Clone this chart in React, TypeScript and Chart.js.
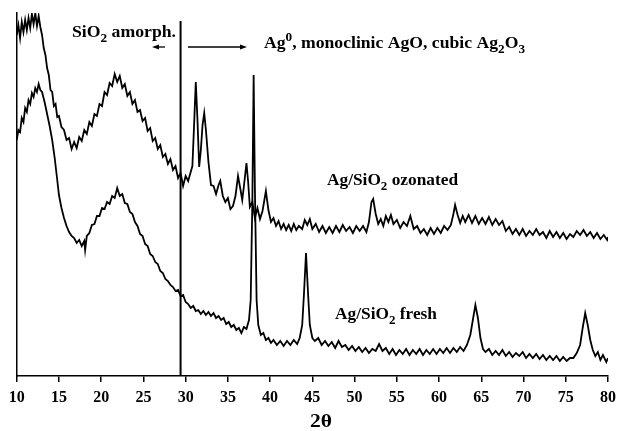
import React, { useEffect, useRef } from "react";
import { Chart, registerables } from "chart.js";

Chart.register(...registerables);

// 2θ positions (degrees) and intensities (arbitrary units)
const TT_OZONATED = [
  10.0, 10.2, 10.4, 10.6, 10.8, 11.0, 11.2, 11.4, 11.6, 11.8, 12.0, 12.2, 12.4, 12.6, 12.8, 13.0, 13.2, 13.4, 13.6, 13.8,
  14.0, 14.2, 14.4, 14.6, 14.8, 15.0, 15.3, 15.6, 15.9, 16.2, 16.5, 16.8, 17.1, 17.4, 17.7, 18.0, 18.3, 18.6, 18.9, 19.2,
  19.5, 19.8, 20.1, 20.4, 20.7, 21.0, 21.3, 21.6, 21.9, 22.2, 22.5, 22.8, 23.1, 23.4, 23.7, 24.0, 24.3, 24.6, 24.9, 25.2,
  25.5, 25.8, 26.1, 26.4, 26.7, 27.0, 27.3, 27.6, 27.9, 28.2, 28.5, 28.8, 29.1, 29.4, 29.7, 30.0, 30.3, 30.6, 30.8, 31.0,
  31.2, 31.4, 31.6, 31.8, 32.0, 32.2, 32.4, 32.7, 33.0, 33.3, 33.6, 33.9, 34.1, 34.4, 34.7, 35.0, 35.3, 35.6, 35.9, 36.2,
  36.5, 36.7, 36.9, 37.2, 37.4, 37.6, 37.9, 38.2, 38.5, 38.8, 39.1, 39.5, 39.8, 40.1, 40.4, 40.7, 41.0, 41.3, 41.6, 41.9,
  42.2, 42.5, 42.8, 43.1, 43.4, 43.8, 44.1, 44.4, 44.7, 45.0, 45.4, 45.8, 46.2, 46.6, 47.0, 47.4, 47.8, 48.2, 48.6, 49.0,
  49.4, 49.8, 50.2, 50.6, 51.0, 51.4, 51.7, 52.0, 52.2, 52.5, 52.8, 53.1, 53.4, 53.7, 54.0, 54.3, 54.6, 55.0, 55.4, 55.8,
  56.2, 56.6, 57.0, 57.4, 57.8, 58.2, 58.6, 59.0, 59.4, 59.8, 60.2, 60.6, 61.0, 61.4, 61.7, 61.9, 62.2, 62.5, 62.8, 63.1,
  63.5, 63.9, 64.3, 64.7, 65.1, 65.5, 65.9, 66.3, 66.7, 67.1, 67.5, 67.9, 68.3, 68.7, 69.1, 69.5, 69.9, 70.3, 70.7, 71.1,
  71.5, 71.9, 72.3, 72.7, 73.1, 73.5, 73.9, 74.3, 74.7, 75.1, 75.5, 75.9, 76.3, 76.7, 77.1, 77.5, 77.9, 78.3, 78.7, 79.1,
  79.5, 79.9, 80.0,
];
const I_OZONATED = [
  341, 351, 338, 354, 344, 356, 346, 358, 348, 362, 352, 363, 350, 360, 349, 341, 328, 321, 308, 301,
  286, 284, 270, 272, 259, 260, 249, 246, 236, 238, 227, 234, 228, 239, 235, 246, 242, 254, 250, 262,
  260, 272, 270, 284, 281, 293, 290, 302, 294, 300, 288, 292, 280, 284, 272, 276, 264, 266, 255, 258,
  245, 248, 235, 238, 227, 231, 219, 222, 212, 217, 206, 210, 198, 203, 190, 200, 195, 204, 210, 251,
  294, 256, 209, 226, 251, 263, 246, 214, 191, 190, 182, 191, 195, 180, 174, 178, 167, 170, 180, 200,
  186, 176, 190, 213, 194, 169, 174, 158, 168, 157, 165, 185, 166, 154, 158, 150, 155, 147, 152, 146,
  151, 145, 152, 146, 150, 147, 156, 151, 157, 147, 152, 144, 150, 143, 149, 143, 150, 144, 151, 145,
  149, 143, 150, 145, 150, 144, 154, 174, 177, 162, 152, 157, 150, 160, 154, 161, 152, 156, 148, 154,
  150, 160, 147, 150, 143, 147, 141, 148, 142, 148, 143, 150, 146, 151, 162, 171, 161, 153, 160, 154,
  161, 153, 160, 152, 158, 152, 159, 151, 157, 151, 155, 145, 149, 142, 147, 141, 147, 140, 145, 141,
  147, 141, 144, 138, 145, 139, 144, 138, 143, 137, 142, 139, 145, 141, 146, 140, 144, 138, 143, 137,
  141, 136, 139,
];

const TT_FRESH = [
  10.0, 10.2, 10.4, 10.6, 10.8, 11.0, 11.2, 11.4, 11.6, 11.8, 12.0, 12.2, 12.4, 12.6, 12.8, 13.0, 13.3, 13.6, 13.9, 14.2,
  14.5, 14.8, 15.0, 15.3, 15.6, 15.9, 16.2, 16.5, 16.8, 17.1, 17.4, 17.7, 18.0, 18.1, 18.3, 18.6, 18.9, 19.2, 19.5, 19.8,
  20.1, 20.4, 20.7, 21.0, 21.3, 21.6, 21.9, 22.2, 22.5, 22.8, 23.1, 23.4, 23.7, 24.0, 24.3, 24.6, 24.9, 25.2, 25.5, 25.8,
  26.1, 26.4, 26.7, 27.0, 27.3, 27.6, 27.9, 28.2, 28.5, 28.8, 29.1, 29.4, 29.7, 30.0, 30.3, 30.6, 30.9, 31.2, 31.5, 31.8,
  32.1, 32.4, 32.7, 33.0, 33.3, 33.6, 33.9, 34.2, 34.5, 34.8, 35.1, 35.4, 35.7, 36.0, 36.3, 36.6, 36.9, 37.2, 37.5, 37.7,
  37.9, 38.05, 38.2, 38.4, 38.6, 38.9, 39.2, 39.5, 39.8, 40.1, 40.4, 40.8, 41.2, 41.6, 42.0, 42.4, 42.8, 43.2, 43.5, 43.8,
  44.0, 44.25, 44.5, 44.7, 45.0, 45.3, 45.7, 46.1, 46.5, 46.9, 47.3, 47.7, 48.1, 48.5, 48.9, 49.3, 49.7, 50.1, 50.5, 50.9,
  51.3, 51.7, 52.1, 52.5, 52.9, 53.3, 53.7, 54.1, 54.5, 54.9, 55.3, 55.7, 56.1, 56.5, 56.9, 57.3, 57.7, 58.1, 58.5, 58.9,
  59.3, 59.7, 60.1, 60.5, 60.9, 61.3, 61.7, 62.1, 62.5, 62.9, 63.3, 63.7, 64.0, 64.3, 64.6, 64.9, 65.2, 65.5, 65.9, 66.3,
  66.7, 67.1, 67.5, 67.9, 68.3, 68.7, 69.1, 69.5, 69.9, 70.3, 70.7, 71.1, 71.5, 71.9, 72.3, 72.7, 73.1, 73.5, 73.9, 74.3,
  74.7, 75.1, 75.5, 75.9, 76.3, 76.7, 77.0, 77.3, 77.6, 77.9, 78.2, 78.5, 78.8, 79.1, 79.4, 79.8, 80.0,
];
const I_FRESH = [
  236, 246, 244, 258, 254, 268, 264, 276, 272, 283, 279, 288, 284, 292, 286, 284, 274, 262, 250, 236,
  218, 196, 181, 168, 158, 150, 144, 140, 138, 133, 136, 130, 135, 126, 140, 143, 151, 152, 160, 160,
  168, 167, 174, 172, 180, 178, 188, 180, 182, 173, 172, 164, 162, 154, 150, 142, 140, 132, 130, 122,
  120, 114, 112, 105, 103, 97, 95, 91, 89, 85, 86, 80, 81, 74, 72, 68, 70, 65, 66, 62,
  65, 61, 64, 60, 63, 58, 60, 56, 58, 52, 54, 49, 51, 46, 48, 43, 49, 47, 56, 76,
  176, 301, 186, 76, 51, 41, 43, 36, 38, 33, 36, 31, 35, 30, 35, 31, 36, 32, 38, 51,
  81, 123, 81, 51, 38, 35, 38, 31, 35, 30, 34, 28, 35, 29, 31, 26, 30, 25, 29, 24,
  28, 23, 27, 25, 32, 25, 28, 22, 27, 21, 26, 22, 27, 21, 26, 22, 27, 21, 26, 22,
  27, 22, 27, 23, 28, 23, 28, 24, 29, 25, 31, 41, 56, 71, 58, 38, 27, 24, 27, 21,
  25, 21, 26, 20, 24, 19, 23, 20, 24, 18, 22, 18, 22, 17, 21, 16, 20, 16, 20, 15,
  19, 15, 18, 18, 23, 31, 48, 63, 51, 36, 26, 20, 24, 16, 21, 14, 18,
];

const X_TICKS = [10, 15, 20, 25, 30, 35, 40, 45, 50, 55, 60, 65, 70, 75, 80];
const SERIES_NAMES = ["Ag/SiO2 ozonated", "Ag/SiO2 fresh"];
const DIVIDER_2THETA = 29.4;

const FONT = '"Liberation Serif", "Times New Roman", serif';

type Part = [string, "n" | "sub" | "sup"];

function drawRich(ctx: CanvasRenderingContext2D, x: number, y: number, parts: Part[], size: number, targetW?: number) {
  const small = Math.round(size * 0.78);
  const fontFor = (k: string) => `bold ${k === "n" ? size : small}px ${FONT}`;
  let w = 0;
  for (const [t, k] of parts) {
    ctx.font = fontFor(k);
    w += ctx.measureText(t).width;
  }
  const sx = targetW ? targetW / w : 1;
  ctx.save();
  ctx.translate(x, y);
  ctx.scale(sx, 1);
  ctx.fillStyle = "#000";
  ctx.textBaseline = "alphabetic";
  ctx.textAlign = "left";
  let cx = 0;
  for (const [t, k] of parts) {
    ctx.font = fontFor(k);
    const dy = k === "sub" ? size * 0.3 : k === "sup" ? -size * 0.45 : 0;
    ctx.fillText(t, cx, dy);
    cx += ctx.measureText(t).width;
  }
  ctx.restore();
}

function arrow(ctx: CanvasRenderingContext2D, x1: number, x2: number, y: number) {
  const dir = Math.sign(x2 - x1);
  ctx.save();
  ctx.strokeStyle = "#000";
  ctx.fillStyle = "#000";
  ctx.lineWidth = 1.3;
  ctx.beginPath();
  ctx.moveTo(x1, y);
  ctx.lineTo(x2 - dir * 5, y);
  ctx.stroke();
  ctx.beginPath();
  ctx.moveTo(x2, y);
  ctx.lineTo(x2 - dir * 7, y - 2.5);
  ctx.lineTo(x2 - dir * 7, y + 2.5);
  ctx.closePath();
  ctx.fill();
  ctx.restore();
}

const annotations = {
  id: "xrdAnnotations",
  afterDatasetsDraw(chart: any) {
    const { ctx, scales, chartArea } = chart;
    const xs = scales.x;
    const xd = xs.getPixelForValue(DIVIDER_2THETA);
    ctx.save();
    ctx.strokeStyle = "#000";
    ctx.lineWidth = 2;
    ctx.beginPath();
    ctx.moveTo(xd, 21);
    ctx.lineTo(xd, chartArea.bottom);
    ctx.stroke();
    ctx.restore();

    drawRich(ctx, 72, 37, [["SiO", "n"], ["2", "sub"], [" amorph.", "n"]], 16, 104);
    arrow(ctx, 165, 152, 47);
    arrow(ctx, 188, 247, 47);
    drawRich(
      ctx,
      264,
      48,
      [["Ag", "n"], ["0", "sup"], [", monoclinic AgO, cubic Ag", "n"], ["2", "sub"], ["O", "n"], ["3", "sub"]],
      16,
      261
    );
    drawRich(ctx, 327, 185, [["Ag/SiO", "n"], ["2", "sub"], [" ozonated", "n"]], 16, 131);
    drawRich(ctx, 335, 319, [["Ag/SiO", "n"], ["2", "sub"], [" fresh", "n"]], 16, 102);
    drawRich(ctx, 310, 427, [["2θ", "n"]], 18, 22);
  },
};

export default function App() {
  const ref = useRef<HTMLCanvasElement | null>(null);
  useEffect(() => {
    if (!ref.current) return;
    const mk = (xs: number[], ys: number[]) => xs.map((x, i) => ({ x, y: ys[i] }));
    const chart = new Chart(ref.current, {
      type: "line",
      data: {
        datasets: [
          {
            label: SERIES_NAMES[0],
            data: mk(TT_OZONATED, I_OZONATED),
            borderColor: "#000",
            borderWidth: 1.8,
            pointRadius: 0,
            tension: 0,
            fill: false,
          },
          {
            label: SERIES_NAMES[1],
            data: mk(TT_FRESH, I_FRESH),
            borderColor: "#000",
            borderWidth: 1.8,
            pointRadius: 0,
            tension: 0,
            fill: false,
          },
        ],
      },
      options: {
        responsive: false,
        animation: false,
        parsing: false,
        normalized: true,
        layout: { padding: { left: 16.7, right: 12.7, top: 13, bottom: 0 } },
        plugins: { legend: { display: false }, tooltip: { enabled: false }, title: { display: false } },
        scales: {
          x: {
            type: "linear",
            min: 10,
            max: 80,
            afterFit: (s: any) => {
              s.height = 55;
            },
            afterBuildTicks: (s: any) => {
              s.ticks = X_TICKS.map((v) => ({ value: v }));
            },
            ticks: {
              color: "#000",
              font: { family: FONT, size: 16, weight: "bold" },
              padding: 6,
              maxRotation: 0,
              autoSkip: false,
              callback: (v: any) => String(v),
            },
            grid: {
              display: true,
              drawOnChartArea: false,
              drawTicks: true,
              tickLength: 6,
              color: "#000",
              lineWidth: 1.5,
            },
            border: { display: true, color: "#000", width: 1.5 },
          },
          y: {
            type: "linear",
            min: 0,
            max: 363,
            afterFit: (s: any) => {
              s.width = 0;
            },
            ticks: { display: false },
            grid: { display: false, drawTicks: false },
            border: { display: true, color: "#000", width: 1.5 },
          },
        },
      },
      plugins: [annotations],
    });
    return () => chart.destroy();
  }, []);
  return (
    <div style={{ position: "absolute", left: 0, top: 0, width: 622, height: 431, background: "#fff" }}>
      <canvas ref={ref} width={622} height={431} style={{ display: "block" }} />
    </div>
  );
}
